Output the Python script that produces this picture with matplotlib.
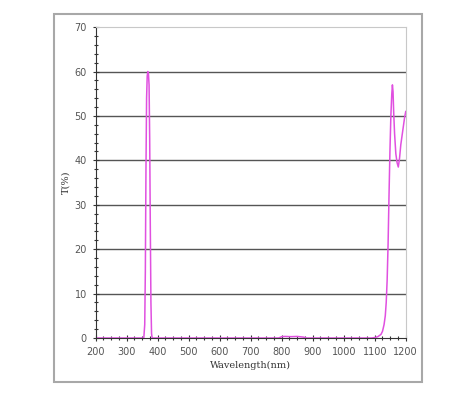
import matplotlib.pyplot as plt
from matplotlib.patches import Rectangle
from matplotlib.ticker import MultipleLocator

# transmission curve
wavelength = [200, 340, 355, 358, 360, 362, 364, 366, 368, 370, 372, 374, 376, 378, 380, 382,
              400, 790, 800, 810, 830, 850, 870, 880, 1090, 1100, 1110, 1120, 1125, 1130,
              1134, 1137, 1140, 1143, 1146, 1149, 1152, 1155, 1157, 1159, 1161, 1164, 1168,
              1172, 1176, 1180, 1184, 1188, 1192, 1196, 1200]
transmission = [0, 0, 0, 3, 15, 38, 54, 59, 60, 59.5, 57, 45, 25, 8, 1, 0,
                0, 0, 0.3, 0.35, 0.3, 0.35, 0.2, 0, 0, 0.1, 0.3, 0.8, 1.5, 3,
                5, 8, 13, 21, 32, 42, 50, 55, 57, 55.5, 51, 46, 41.5,
                39.5, 38.5, 40.5, 43.5, 45.5, 47.5, 49.5, 51]

x_ticks = list(range(200, 1201, 100))
y_ticks = list(range(0, 71, 10))

fig = plt.figure(figsize=(4.74, 3.95), dpi=100)
fig.patches.append(Rectangle((0.114, 0.033), 0.776, 0.932, transform=fig.transFigure,
                             fill=False, edgecolor='#a8a8a8', linewidth=1.5))

ax = fig.add_axes([0.202, 0.1443, 0.654, 0.787])
ax.plot(wavelength, transmission, color='#e050e0', linewidth=1.1)

ax.set_xlim(200, 1200)
ax.set_ylim(0, 70)
ax.set_xticks(x_ticks)
ax.set_yticks(y_ticks)
ax.xaxis.set_minor_locator(MultipleLocator(25))
ax.yaxis.set_minor_locator(MultipleLocator(2))
for y in y_ticks[1:-1]:
    ax.axhline(y, color='#555555', linewidth=1.0, zorder=0)

ax.spines['left'].set_color('#333333')
ax.spines['bottom'].set_color('#333333')
ax.spines['right'].set_color('#c8c8c8')
ax.spines['top'].set_color('#c8c8c8')
ax.tick_params(which='both', direction='inout', colors='#333333', labelcolor='#555555',
               labelsize=7, width=0.8)
ax.tick_params(which='major', length=5, pad=4)
ax.tick_params(which='minor', length=3)
ax.tick_params(top=False, right=False, which='both')

ax.set_xlabel('Wavelength(nm)', fontsize=7, family='DejaVu Serif', color='#333333', labelpad=3)
ax.set_ylabel('T(%)', fontsize=7, family='DejaVu Serif', color='#333333', labelpad=3)

fig.savefig('out.png', dpi=100)
